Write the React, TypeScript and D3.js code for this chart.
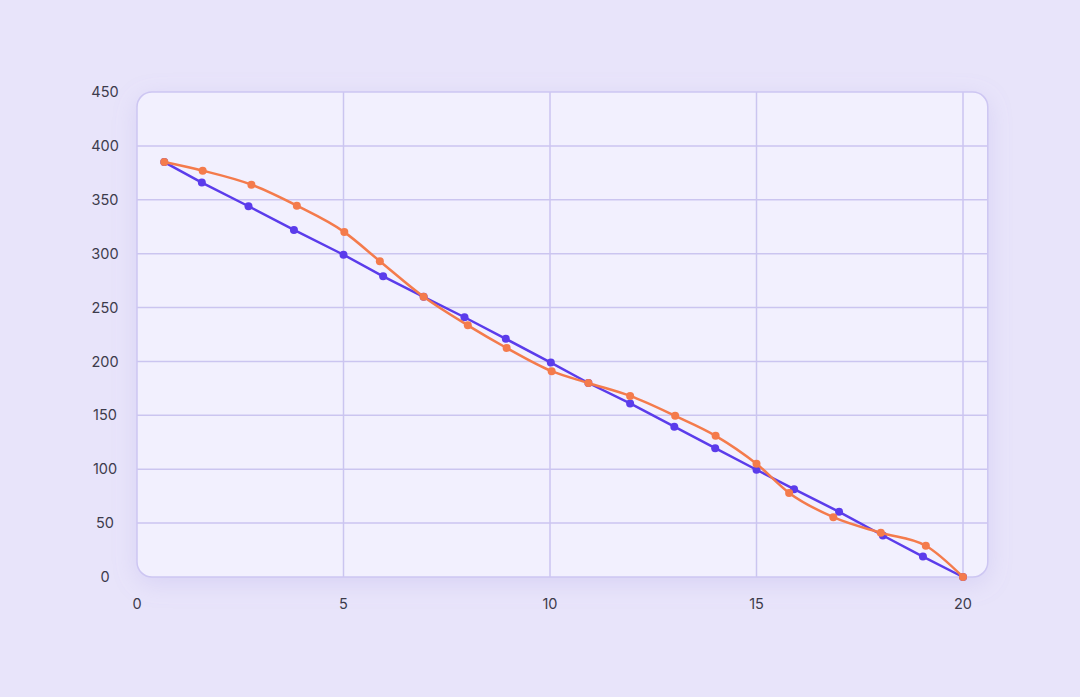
import React, { useEffect, useRef } from 'react';
import * as d3 from 'd3';

// values
const purpleX = [0.66, 1.57, 2.7, 3.8, 5.0, 5.96, 6.94, 7.93, 8.93, 10.02, 10.93, 11.94, 13.01, 14.0, 15.0, 15.91, 17.0, 18.06, 19.03, 20];
const purpleY = [385, 366, 344, 322, 299, 279, 260, 241, 221, 199, 180, 161, 139.5, 119.5, 99.5, 81.5, 60.5, 38.5, 19, 0];
const orangeX = [0.66, 1.59, 2.77, 3.87, 5.02, 5.88, 6.94, 8.01, 8.95, 10.04, 10.93, 11.94, 13.03, 14.01, 15.0, 15.79, 16.86, 18.01, 19.1, 20];
const orangeY = [385, 377, 364, 344.5, 320, 293, 260, 233.5, 212.5, 191, 180, 168, 149.5, 131, 105, 78, 55.5, 41, 29, 0];
const xTicks = [0, 5, 10, 15, 20];
const yTicks = [0, 50, 100, 150, 200, 250, 300, 350, 400, 450];

const W = 1080;
const H = 697;

const App: React.FC = () => {
  const svgRef = useRef<SVGSVGElement>(null);

  useEffect(() => {
    if (!svgRef.current) return;
    const svg = d3.select(svgRef.current);
    svg.selectAll('*').remove();

    const x = d3.scaleLinear().domain([0, 20]).range([137, 963]);
    const y = d3.scaleLinear().domain([0, 450]).range([577, 92]);
    const xMax = 20.6;

    svg.append('rect').attr('width', W).attr('height', H).attr('fill', '#e8e4fa');

    const defs = svg.append('defs');
    const f = defs.append('filter').attr('id', 'shadow')
      .attr('x', '-10%').attr('y', '-10%').attr('width', '120%').attr('height', '130%');
    f.append('feDropShadow').attr('dx', 0).attr('dy', 6).attr('stdDeviation', 12)
      .attr('flood-color', '#9a8fe0').attr('flood-opacity', 0.22);

    const clip = defs.append('clipPath').attr('id', 'panel');
    clip.append('rect')
      .attr('x', x(0)).attr('y', y(450))
      .attr('width', x(xMax) - x(0)).attr('height', y(0) - y(450))
      .attr('rx', 15);

    svg.append('rect')
      .attr('x', x(0)).attr('y', y(450))
      .attr('width', x(xMax) - x(0)).attr('height', y(0) - y(450))
      .attr('rx', 15)
      .attr('fill', '#f2f0fe')
      .attr('filter', 'url(#shadow)');

    const grid = svg.append('g').attr('clip-path', 'url(#panel)');
    grid.selectAll('line.h').data(yTicks.slice(1, -1)).enter().append('line')
      .attr('x1', x(0)).attr('x2', x(xMax))
      .attr('y1', d => y(d)).attr('y2', d => y(d))
      .attr('stroke', '#cbc5f0').attr('stroke-width', 1.5);
    grid.selectAll('line.v').data(xTicks.slice(1)).enter().append('line')
      .attr('y1', y(450)).attr('y2', y(0))
      .attr('x1', d => x(d)).attr('x2', d => x(d))
      .attr('stroke', '#cbc5f0').attr('stroke-width', 1.5);

    svg.append('rect')
      .attr('x', x(0)).attr('y', y(450))
      .attr('width', x(xMax) - x(0)).attr('height', y(0) - y(450))
      .attr('rx', 15)
      .attr('fill', 'none')
      .attr('stroke', '#cdc6f2').attr('stroke-width', 1.5);

    const font = 'Inter, "Open Sans", sans-serif';
    svg.append('g').selectAll('text').data(yTicks).enter().append('text')
      .attr('x', 105).attr('y', d => y(d)).attr('dy', '0.35em')
      .attr('text-anchor', 'middle')
      .attr('font-family', font).attr('font-size', 14.5).attr('fill', '#3d3b4c')
      .text(d => d);
    svg.append('g').selectAll('text').data(xTicks).enter().append('text')
      .attr('x', d => x(d)).attr('y', 604).attr('dy', '0.35em')
      .attr('text-anchor', 'middle')
      .attr('font-family', font).attr('font-size', 14.5).attr('fill', '#3d3b4c')
      .text(d => d);

    const series = [
      { xs: purpleX, ys: purpleY, color: '#5b3ceb', curve: d3.curveLinear },
      { xs: orangeX, ys: orangeY, color: '#f47b4c', curve: d3.curveMonotoneX },
    ];
    series.forEach(s => {
      const pts: [number, number][] = s.xs.map((v, i) => [x(v), y(s.ys[i])]);
      const line = d3.line().curve(s.curve);
      svg.append('path')
        .attr('d', line(pts))
        .attr('fill', 'none')
        .attr('stroke', s.color)
        .attr('stroke-width', 2.5)
        .attr('stroke-linejoin', 'round');
      svg.append('g').selectAll('circle').data(pts).enter().append('circle')
        .attr('cx', d => d[0]).attr('cy', d => d[1]).attr('r', 4)
        .attr('fill', s.color);
    });
  }, []);

  return (
    <svg ref={svgRef} width={W} height={H}
      style={{ position: 'absolute', left: 0, top: 0, display: 'block' }} />
  );
};

export default App;
